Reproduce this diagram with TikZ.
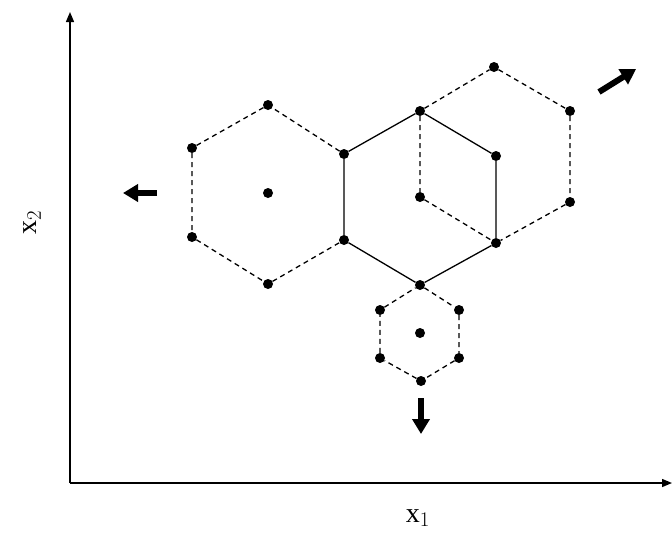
\documentclass[tikz,border=0pt]{standalone}
\usepackage{fontspec}
\setmainfont{Liberation Serif}
\usetikzlibrary{arrows.meta}

\begin{document}
\begin{tikzpicture}[x=1pt, y=-1pt, font=\fontsize{28}{32}\selectfont, vertex/.style={circle, fill=black, inner sep=0pt, minimum size=10pt}, edge/.style={line width=1.3pt}, trial/.style={line width=1.3pt, dash pattern=on 5pt off 4pt}, axis/.style={line width=1.4pt, -{Triangle[length=10pt, width=8pt]}}, move/.style={line width=6pt, -{Triangle[length=15pt, width=17pt]}}]
\useasboundingbox (0,0) rectangle (672,539);
% axes
\coordinate (origin) at (70,483);
\coordinate (ytop) at (70,12);
\coordinate (xend) at (672,483);
\draw[axis] (origin) -- (ytop);
\draw[axis] (origin) -- (xend);
\node (xonelabel) at (418,518) {x$_1$};
\node[rotate=90] (xtwolabel) at (32,222) {x$_2$};
% current simplex
\node[vertex] (top) at (420,111) {};
\node[vertex] (upleft) at (344,154) {};
\node[vertex] (lowleft) at (344,240) {};
\node[vertex] (bottom) at (420,285) {};
\node[vertex] (lowright) at (496,243) {};
\node[vertex] (upright) at (496,156) {};
\node[vertex] (centre) at (420,197) {};
% expansion
\node[vertex] (exptop) at (494,67) {};
\node[vertex] (expup) at (570,111) {};
\node[vertex] (explow) at (570,202) {};
% reflection to the left
\node[vertex] (lefttop) at (268,105) {};
\node[vertex] (leftup) at (192,148) {};
\node[vertex] (leftlow) at (192,237) {};
\node[vertex] (leftbottom) at (268,284) {};
\node[vertex] (leftcentre) at (268,193) {};
% contraction
\node[vertex] (smallup) at (459,310) {};
\node[vertex] (smalllow) at (459,358) {};
\node[vertex] (smallbottom) at (421,381) {};
\node[vertex] (smallleftlow) at (380,358) {};
\node[vertex] (smallleftup) at (380,310) {};
\node[vertex] (smallcentre) at (420,333) {};
\draw[edge] (top) -- (upleft) -- (lowleft) -- (bottom) -- (lowright) -- (upright) -- (top);
\draw[trial] (top) -- (centre) -- (lowright);
\draw[trial] (top) -- (exptop) -- (expup) -- (explow) -- (lowright);
\draw[trial] (upleft) -- (lefttop) -- (leftup) -- (leftlow) -- (leftbottom) -- (lowleft);
\draw[trial] (bottom) -- (smallup) -- (smalllow) -- (smallbottom) -- (smallleftlow) -- (smallleftup) -- (bottom);
% directions
\coordinate (lefttail) at (157,193);
\coordinate (lefthead) at (123,193);
\coordinate (netail) at (599,92);
\coordinate (nehead) at (636,69);
\coordinate (downtail) at (421,398);
\coordinate (downhead) at (421,434);
\draw[move] (lefttail) -- (lefthead);
\draw[move] (netail) -- (nehead);
\draw[move] (downtail) -- (downhead);
\end{tikzpicture}
\end{document}
